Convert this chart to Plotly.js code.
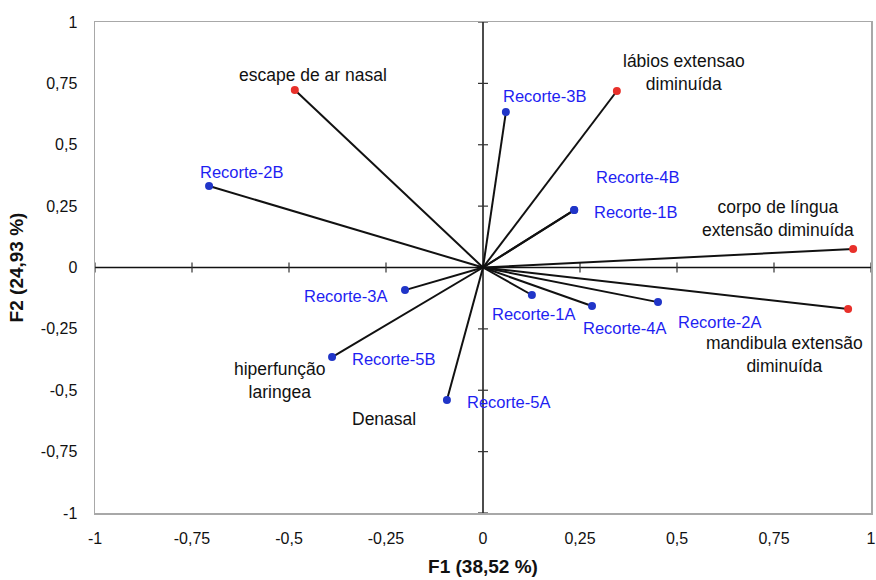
<!DOCTYPE html>
<html>
<head>
<meta charset="utf-8">
<script src="https://cdn.plot.ly/plotly-3.0.1.min.js"></script>
<style>html,body{margin:0;padding:0;background:#fff;}#chart{width:876px;height:580px;}</style>
</head>
<body>
<div id="chart"></div>
<script>
// ---- data ----
const varNames = ["escape de ar nasal", "lábios extensao<br>diminuída", "corpo de língua<br>extensão diminuída", "mandibula extensão<br>diminuída"];
const varX = [-0.485, 0.345, 0.954, 0.941];
const varY = [0.723, 0.719, 0.075, -0.169];

const obsNames = ["Recorte-2B", "Recorte-3B", "Recorte-4B", "Recorte-1B", "Recorte-2A", "Recorte-4A", "Recorte-1A", "Recorte-3A", "Recorte-5B", "Recorte-5A"];
const obsX = [-0.706, 0.059, 0.235, 0.235, 0.451, 0.281, 0.126, -0.201, -0.389, -0.093];
const obsY = [0.332, 0.633, 0.234, 0.234, -0.141, -0.157, -0.112, -0.092, -0.365, -0.540];

const extraNames = ["hiperfunção<br>laringea", "Denasal"];
const extraAt = ["Recorte-5B", "Recorte-5A"];

const tickVals = [-1, -0.75, -0.5, -0.25, 0, 0.25, 0.5, 0.75, 1];
const tickText = ["-1", "-0,75", "-0,5", "-0,25", "0", "0,25", "0,5", "0,75", "1"];

// ---- label offsets (pixels, screen: dx right, dy down) ----
const varOff = {
  "escape de ar nasal": [18, -15],
  "lábios extensao<br>diminuída": [67, -18],
  "corpo de língua<br>extensão diminuída": [-75, -31],
  "mandibula extensão<br>diminuída": [-64, 46]
};
const obsOff = {
  "Recorte-2B": [32, -14], "Recorte-3B": [39, -16], "Recorte-4B": [63, -33], "Recorte-1B": [61, 2],
  "Recorte-2A": [62, 20], "Recorte-4A": [32, 22], "Recorte-1A": [2, 19], "Recorte-3A": [-60, 6],
  "Recorte-5B": [61, 2], "Recorte-5A": [62, 2]
};
const extraOff = {"hiperfunção<br>laringea": [-53, 23], "Denasal": [-63, 19]};

const FONT = "Liberation Sans, Arial, Helvetica, sans-serif";
const BLUE_TXT = "#1e1ef2";
const BLUE_DOT = "#2035c8";
const RED_DOT = "#e8302a";

// vector lines from origin
const lx = [], ly = [];
function addVec(xs, ys) { xs.forEach((v, i) => { lx.push(0, v, null); ly.push(0, ys[i], null); }); }
addVec(varX, varY);
addVec(obsX, obsY);

const traces = [
  {x: lx, y: ly, mode: "lines", line: {color: "#111", width: 2}, hoverinfo: "skip", showlegend: false},
  {x: obsX, y: obsY, text: obsNames, mode: "markers", marker: {color: BLUE_DOT, size: 8}, showlegend: false},
  {x: varX, y: varY, text: varNames, mode: "markers", marker: {color: RED_DOT, size: 8}, showlegend: false}
];

const annotations = [];
varNames.forEach((n, i) => annotations.push({x: varX[i], y: varY[i], text: n, showarrow: false,
  xshift: varOff[n][0], yshift: -varOff[n][1], font: {family: FONT, size: 17.5, color: "#111"}}));
obsNames.forEach((n, i) => annotations.push({x: obsX[i], y: obsY[i], text: n, showarrow: false,
  xshift: obsOff[n][0], yshift: -obsOff[n][1], font: {family: FONT, size: 16.5, color: BLUE_TXT}}));
extraNames.forEach((n, i) => {
  const k = obsNames.indexOf(extraAt[i]);
  annotations.push({x: obsX[k], y: obsY[k], text: n, showarrow: false,
    xshift: extraOff[n][0], yshift: -extraOff[n][1], font: {family: FONT, size: 17.5, color: "#111"}});
});

// zero axes with crossing tick marks
const shapes = [
  {type: "line", xref: "x", yref: "y", x0: -1, x1: 1, y0: 0, y1: 0, line: {color: "#111", width: 1.5}, layer: "below"},
  {type: "line", xref: "x", yref: "y", x0: 0, x1: 0, y0: -1, y1: 1, line: {color: "#111", width: 1.5}, layer: "below"}
];
tickVals.forEach(v => {
  if (v === 0) return;
  shapes.push({type: "line", xref: "x", yref: "y", x0: v, x1: v, ysizemode: "pixel", yanchor: 0,
    y0: -5, y1: 5, line: {color: "#333", width: 1.2}, layer: "below"});
  shapes.push({type: "line", xref: "x", yref: "y", y0: v, y1: v, x0: -5, x1: 5, xsizemode: "pixel", xanchor: 0,
    line: {color: "#333", width: 1.2}, layer: "below"});
});

const axisCommon = {
  range: [-1, 1], tickvals: tickVals, ticktext: tickText, showgrid: false, zeroline: false,
  showline: true, mirror: true, linecolor: "#a8a8a8", linewidth: 1.5, ticks: "",
  tickfont: {family: FONT, size: 16, color: "#111"}, fixedrange: true, automargin: false
};

const layout = {
  width: 876, height: 580,
  margin: {l: 95, r: 5, t: 22, b: 67},
  paper_bgcolor: "#fff", plot_bgcolor: "#fff",
  xaxis: Object.assign({}, axisCommon, {ticklabelstandoff: 10,
    title: {text: "F1 (38,52 %)", font: {family: FONT, size: 19, color: "#111", weight: "bold"}, standoff: 14}}),
  yaxis: Object.assign({}, axisCommon, {ticklabelstandoff: 13,
    title: {text: "F2 (24,93 %)", font: {family: FONT, size: 19, color: "#111", weight: "bold"}, standoff: 12}}),
  shapes: shapes,
  annotations: annotations,
  showlegend: false,
  hovermode: "closest"
};

Plotly.newPlot("chart", traces, layout, {displayModeBar: false, staticPlot: true});
</script>
</body>
</html>
